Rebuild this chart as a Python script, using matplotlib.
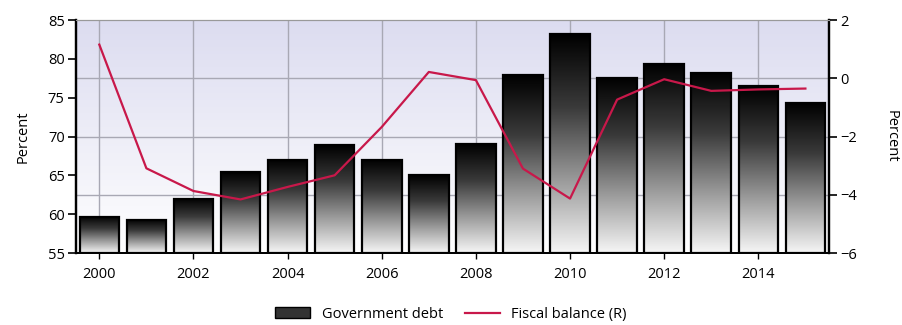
import numpy as np
import matplotlib
matplotlib.use("Agg")
import matplotlib.pyplot as plt
from matplotlib.colors import LinearSegmentedColormap
from matplotlib.patches import Patch
from matplotlib.lines import Line2D

years = [2000, 2001, 2002, 2003, 2004, 2005, 2006, 2007,
         2008, 2009, 2010, 2011, 2012, 2013, 2014, 2015]
debt = [59.7, 59.3, 62.0, 65.4, 67.0, 68.9, 67.0, 65.0,
        69.0, 77.9, 83.2, 77.6, 79.4, 78.2, 76.5, 74.3]
balance = [1.16, -3.09, -3.87, -4.16, -3.73, -3.33, -1.67, 0.22,
           -0.06, -3.10, -4.13, -0.73, -0.03, -0.43, -0.38, -0.35]
xticks = [2000, 2002, 2004, 2006, 2008, 2010, 2012, 2014]
left_ticks = [55, 60, 65, 70, 75, 80, 85]
right_ticks = [-6, -4, -2, 0, 2]

plt.rcParams['font.family'] = ['Open Sans', 'DejaVu Sans']
plt.rcParams['font.size'] = 10.5

fig = plt.figure(figsize=(9.02, 3.25), dpi=100)
ax = fig.add_axes([0.084, 0.2215, 0.835, 0.7165])
ax2 = ax.twinx()

# background gradient
bg = LinearSegmentedColormap.from_list("bg", ["#ffffff", "#dcdcf0"])
grad = np.linspace(0, 1, 256).reshape(-1, 1)
ax.imshow(grad, cmap=bg, aspect="auto", origin="lower",
          extent=[1999.5, 2015.5, 55, 85], zorder=0)

# grid behind bars: vertical at even years, horizontal at right-axis ticks
for x in xticks:
    ax.axvline(x, color="#a8a8b4", linewidth=1.0, zorder=1)
for r in right_ticks[1:-1]:
    ax.axhline(55 + (r + 6) / 8 * 30, color="#a8a8b4", linewidth=1.0, zorder=1)

# bars with vertical gradient
barcmap = LinearSegmentedColormap.from_list(
    "bar", ["#f6f6f6", "#9a9a9a", "#3a3a3a", "#000000"])
bars = ax.bar(years, [d - 55 for d in debt], bottom=55, width=0.84,
              facecolor="none", edgecolor="black", linewidth=1.6, zorder=3)
for b in bars:
    x0, y0 = b.get_x(), b.get_y()
    w, h = b.get_width(), b.get_height()
    im = ax.imshow(grad, cmap=barcmap, aspect="auto", origin="lower",
                   extent=[x0, x0 + w, y0, y0 + h], zorder=2)
    im.set_clip_path(b)

ax.set_xlim(1999.5, 2015.5)
ax.set_ylim(55, 85)
ax.set_yticks(left_ticks)
ax.set_xticks(xticks)
ax.set_ylabel("Percent", labelpad=12)

ax2.plot(years, balance, color="#c8184a", linewidth=1.6, zorder=5)
ax2.set_ylim(-6, 2)
ax2.set_yticks(right_ticks)
ax2.set_ylabel("Percent", rotation=270, labelpad=30)

for a in (ax, ax2):
    a.spines['top'].set_color("#999999")
    a.spines['left'].set_linewidth(1.6)
    a.spines['right'].set_linewidth(1.6)
    a.spines['bottom'].set_linewidth(1.3)
ax.tick_params(axis='y', length=6, width=1.2, pad=2)
ax.tick_params(axis='x', length=4, width=1.0, pad=6)
ax2.tick_params(axis='y', length=6, width=1.2, pad=2)
ax2.patch.set_visible(False)

handles = [Patch(facecolor="#333333", edgecolor="black"),
           Line2D([0], [0], color="#c8184a", linewidth=1.6)]
fig.legend(handles, ["Government debt", "Fiscal balance (R)"],
           loc="lower center", bbox_to_anchor=(0.5, -0.03), ncol=2,
           frameon=False, handlelength=2.4, columnspacing=1.5)

fig.savefig("out.png", dpi=100)
